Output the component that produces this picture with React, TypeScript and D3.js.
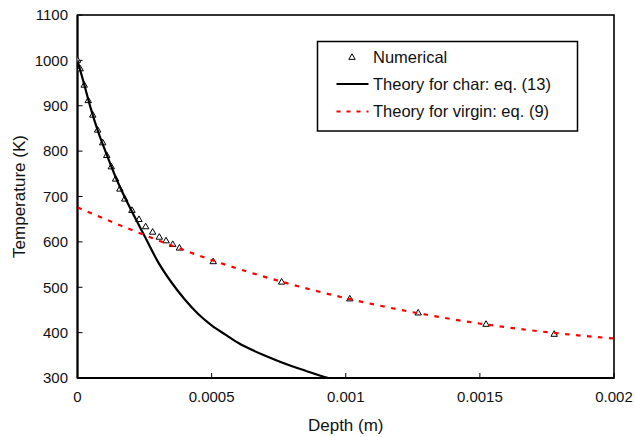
import React from 'react';
import * as d3 from 'd3';

// Numerical results (depth in m, temperature in K)
const numDepth = [
  0, 0.00001, 0.000025, 0.00004, 0.000057, 0.000075, 0.000094, 0.000109, 0.000126,
  0.000142, 0.000158, 0.000176, 0.000203, 0.000229, 0.000254, 0.00028, 0.000305,
  0.00033, 0.000355, 0.00038, 0.000506, 0.000761, 0.001015, 0.00127, 0.001523, 0.001777,
];
const numTemp = [
  1000, 981, 945, 911, 879, 846, 818, 790, 765, 738, 716, 694, 669, 649, 633, 621, 610,
  602, 594, 586, 556, 511, 474, 443, 418, 396,
];

// Theory for char: eq. (13)
const charDepth = [
  0, 0.000025, 0.00005, 0.000075, 0.0001, 0.00015, 0.0002, 0.00025, 0.0003, 0.00035,
  0.0004, 0.00045, 0.0005, 0.00055, 0.0006, 0.00065, 0.0007, 0.00075, 0.0008, 0.00085,
  0.0009, 0.000935,
];
const charTemp = [
  1000, 947, 893, 846, 806, 732, 670, 613, 556, 511, 473, 441, 416, 396, 377, 362, 349,
  337, 326, 316, 306, 300,
];

// Theory for virgin: eq. (9)
const virginDepth = [0, 0.00025, 0.0005, 0.00075, 0.001, 0.00125, 0.0015, 0.00175, 0.002];
const virginTemp = [676, 615, 560, 514, 476, 445, 420, 401, 387];

const xTicks = [0, 0.0005, 0.001, 0.0015, 0.002];
const xTickLabels = ['0', '0.0005', '0.001', '0.0015', '0.002'];
const yTicks = [300, 400, 500, 600, 700, 800, 900, 1000, 1100];

const legendLabels = ['Numerical', 'Theory for char: eq. (13)', 'Theory for virgin: eq. (9)'];

const W = 635;
const H = 437;
const margin = { top: 15, right: 21, bottom: 59, left: 77.5 };
const font = '"Liberation Sans", Arial, Helvetica, sans-serif';

export default function App() {
  const x = d3.scaleLinear().domain([0, 0.002]).range([margin.left, W - margin.right]);
  const y = d3.scaleLinear().domain([300, 1100]).range([H - margin.bottom, margin.top]);

  const line = d3
    .line<[number, number]>()
    .x(d => x(d[0]))
    .y(d => y(d[1]))
    .curve(d3.curveMonotoneX);

  const charPts = charDepth.map((d, i) => [d, charTemp[i]] as [number, number]);
  const virginPts = virginDepth.map((d, i) => [d, virginTemp[i]] as [number, number]);
  const tri = d3.symbol(d3.symbolTriangle, 18)();

  const x0 = x.range()[0], x1 = x.range()[1];
  const y0 = y.range()[0], y1 = y.range()[1];

  // legend box
  const lg = { x: 317.5, y: 41.5, w: 260, h: 89.5 };
  const rowY = [57.5, 84, 111.5];

  return (
    <svg width={W} height={H} style={{ position: 'absolute', left: 0, top: 0, background: '#fff' }}
      fontFamily={font}>
      <defs>
        <clipPath id="plot">
          <rect x={x0} y={y1} width={x1 - x0} height={y0 - y1} />
        </clipPath>
      </defs>

      {/* frame */}
      <rect x={x0} y={y1} width={x1 - x0} height={y0 - y1} fill="none" stroke="#000" strokeWidth={1.6} />
      <line x1={x0} x2={x0} y1={y1} y2={y0} stroke="#000" strokeWidth={2} />
      <line x1={x0} x2={x1} y1={y0} y2={y0} stroke="#000" strokeWidth={2} />

      {/* y ticks */}
      {yTicks.map(t => (
        <g key={'y' + t}>
          <line x1={x0} x2={x0 + 5} y1={y(t)} y2={y(t)} stroke="#000" strokeWidth={1} />
          <text x={68} y={y(t)} dy="0.35em" textAnchor="end" fontSize={15} fill="#111">{t}</text>
        </g>
      ))}

      {/* x ticks */}
      {xTicks.map((t, i) => (
        <g key={'x' + t}>
          <line x1={x(t)} x2={x(t)} y1={y0} y2={y0 - 5} stroke="#000" strokeWidth={1} />
          <text x={x(t)} y={402} textAnchor="middle" fontSize={15} fill="#111">{xTickLabels[i]}</text>
        </g>
      ))}

      {/* axis titles */}
      <text x={(x0 + x1) / 2} y={431} textAnchor="middle" fontSize={17} fill="#111">Depth (m)</text>
      <text transform={`translate(24.5,${(y0 + y1) / 2}) rotate(-90)`} textAnchor="middle" fontSize={17} fill="#111">
        Temperature (K)
      </text>

      <g clipPath="url(#plot)">
        {numDepth.map((d, i) => (
          <path key={'n' + i} d={tri} transform={`translate(${x(d)},${y(numTemp[i])})`}
            fill="#fff" stroke="#000" strokeWidth={1} />
        ))}
        <path d={line(charPts)} fill="none" stroke="#000" strokeWidth={2.2} />
        <path d={line(virginPts)} fill="none" stroke="#ff0000" strokeWidth={2.2} strokeDasharray="4.5,6.5" />
      </g>

      {/* legend */}
      <rect x={lg.x} y={lg.y} width={lg.w} height={lg.h} fill="#fff" stroke="#000" strokeWidth={1.5} />
      <path d={tri} transform={`translate(352,${rowY[0]})`} fill="#fff" stroke="#000" strokeWidth={1} />
      <line x1={336.5} x2={368.5} y1={rowY[1]} y2={rowY[1]} stroke="#000" strokeWidth={2} />
      <line x1={336.5} x2={368.5} y1={rowY[2]} y2={rowY[2]} stroke="#ff0000" strokeWidth={2} strokeDasharray="4,6" />
      {legendLabels.map((l, i) => (
        <text key={l} x={373} y={rowY[i]} dy="0.35em" fontSize={16.5} fill="#111">{l}</text>
      ))}
    </svg>
  );
}
